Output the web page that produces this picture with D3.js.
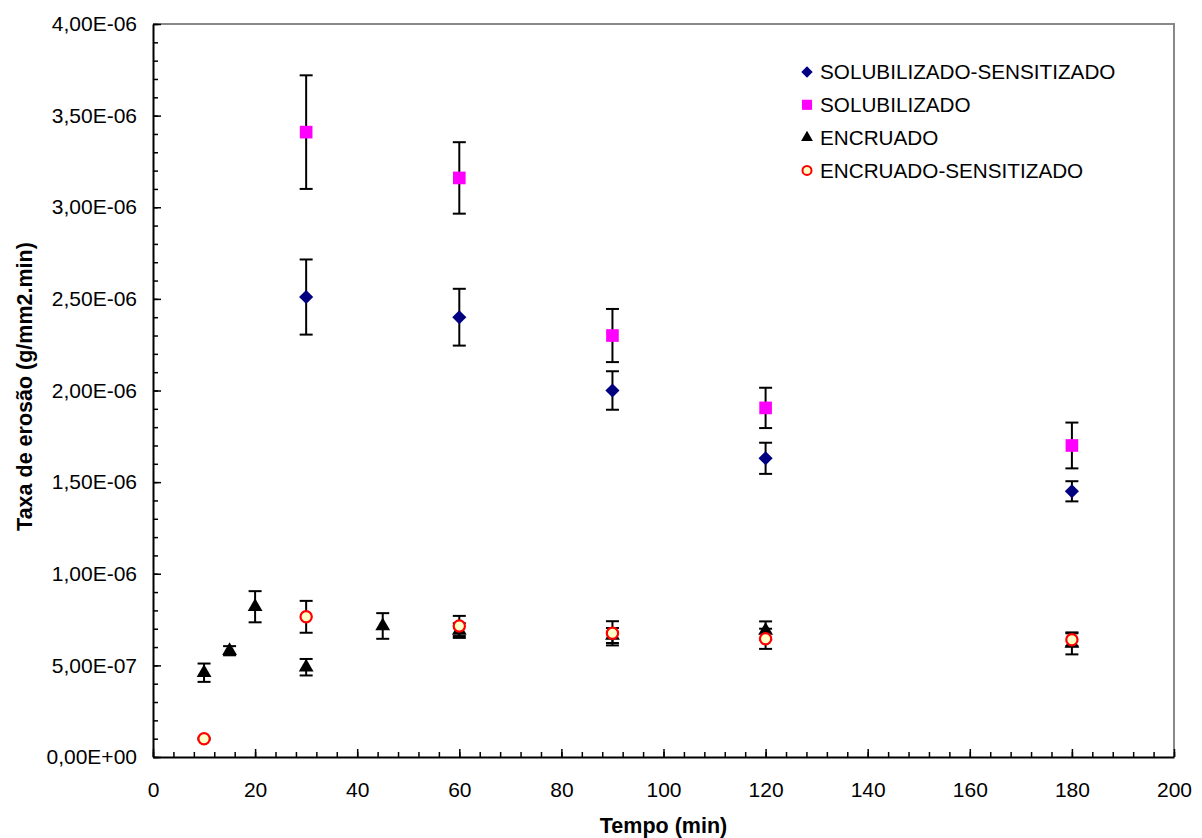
<!DOCTYPE html>
<html>
<head>
<meta charset="utf-8">
<script src="https://cdn.jsdelivr.net/npm/d3@7"></script>
<style>
  body { margin: 0; background: #fff; }
  svg text { font-family: "Liberation Sans", Arial, sans-serif; fill: #000; }
</style>
</head>
<body>
<svg width="1202" height="838"></svg>
<script>
// dados (taxa em g/mm2.min)
var solSensX = [30, 60, 90, 120, 180],
    solSensY = [2.51e-6, 2.40e-6, 2.00e-6, 1.63e-6, 1.45e-6],
    solSensErr = [0.205e-6, 0.155e-6, 0.105e-6, 0.085e-6, 0.055e-6];

var solX = [30, 60, 90, 120, 180],
    solY = [3.41e-6, 3.16e-6, 2.30e-6, 1.905e-6, 1.70e-6],
    solErr = [0.31e-6, 0.195e-6, 0.145e-6, 0.11e-6, 0.125e-6];

var encX = [10, 15, 20, 30, 45, 60, 90, 120, 180],
    encY = [0.46e-6, 0.58e-6, 0.82e-6, 0.49e-6, 0.715e-6, 0.69e-6, 0.663e-6, 0.69e-6, 0.62e-6],
    encErr = [0.05e-6, 0.025e-6, 0.085e-6, 0.045e-6, 0.07e-6, 0.04e-6, 0.041e-6, 0.05e-6, 0.06e-6];

var encSensX = [10, 30, 60, 90, 120, 180],
    encSensY = [0.10e-6, 0.765e-6, 0.715e-6, 0.675e-6, 0.645e-6, 0.64e-6],
    encSensErr = [0.005e-6, 0.087e-6, 0.055e-6, 0.066e-6, 0.055e-6, 0.035e-6];

var seriesNames = ['SOLUBILIZADO-SENSITIZADO', 'SOLUBILIZADO', 'ENCRUADO', 'ENCRUADO-SENSITIZADO'];

var xTicks = d3.range(0, 201, 20),
    xMinor = d3.range(0, 201, 4),
    yTicks = d3.range(0, 4.01e-6, 0.5e-6),
    yMinor = d3.range(0, 4.01e-6, 0.1e-6);

var svg = d3.select('svg'),
    margin = { top: 24, right: 28, bottom: 81, left: 153 },
    width = +svg.attr('width') - margin.left - margin.right,
    height = +svg.attr('height') - margin.top - margin.bottom;

var x = d3.scaleLinear().domain([0, 200]).range([0, width]),
    y = d3.scaleLinear().domain([0, 4e-6]).range([height, 0]);

var g = svg.append('g')
    .attr('transform', 'translate(' + margin.left + ',' + margin.top + ')');

// moldura cinza (topo e direita)
g.append('path')
    .attr('d', 'M0,0H' + width + 'V' + height)
    .attr('fill', 'none')
    .attr('stroke', '#888')
    .attr('stroke-width', 2);

function fmtY(v) {
  if (Math.abs(v) < 1e-12) return '0,00E+00';
  var s = v.toExponential(2).split('e');
  var ex = +s[1];
  var es = (ex < 0 ? '-' : '+') + (Math.abs(ex) < 10 ? '0' : '') + Math.abs(ex);
  return s[0].replace('.', ',') + 'E' + es;
}

// eixos secundários (ticks menores)
g.append('g')
    .attr('transform', 'translate(0,' + height + ')')
    .call(d3.axisBottom(x).tickValues(xMinor).tickSize(-5).tickFormat(''))
    .call(function(a) { a.select('.domain').remove(); });
g.append('g')
    .call(d3.axisLeft(y).tickValues(yMinor).tickSize(-5).tickFormat(''))
    .call(function(a) { a.select('.domain').remove(); });

var xAxis = g.append('g')
    .attr('transform', 'translate(0,' + height + ')')
    .call(d3.axisBottom(x).tickValues(xTicks).tickSizeInner(-8).tickSizeOuter(0).tickPadding(25));
var yAxis = g.append('g')
    .call(d3.axisLeft(y).tickValues(yTicks).tickSizeInner(-8).tickSizeOuter(0).tickPadding(16).tickFormat(fmtY));

[xAxis, yAxis].forEach(function(a) {
  a.select('.domain').attr('stroke', '#000').attr('stroke-width', 2);
  a.selectAll('text').style('font-size', '21px').attr('fill', '#000');
});
g.selectAll('.tick line').attr('stroke', '#000').attr('stroke-width', 1.5);

// titulos dos eixos
svg.append('text')
    .attr('x', margin.left + width / 2)
    .attr('y', 833)
    .attr('text-anchor', 'middle')
    .style('font-size', '21.5px')
    .style('font-weight', 'bold')
    .text('Tempo (min)');
svg.append('text')
    .attr('transform', 'translate(32,' + (margin.top + height / 2 - 4) + ') rotate(-90)')
    .attr('text-anchor', 'middle')
    .style('font-size', '21.5px')
    .style('font-weight', 'bold')
    .text('Taxa de erosão (g/mm2.min)');

// series
var series = [
  { name: seriesNames[0], xs: solSensX, ys: solSensY, err: solSensErr, shape: 'diamond', fill: '#000080', stroke: 'none' },
  { name: seriesNames[1], xs: solX, ys: solY, err: solErr, shape: 'square', fill: '#ff00ff', stroke: 'none' },
  { name: seriesNames[2], xs: encX, ys: encY, err: encErr, shape: 'triangle', fill: '#000', stroke: 'none' },
  { name: seriesNames[3], xs: encSensX, ys: encSensY, err: encSensErr, shape: 'circle', fill: '#ffffc8', stroke: '#ff0000' }
];

function symbolPath(shape, k) {
  if (shape === 'diamond') return d3.symbol(d3.symbolSquare, 100 * k * k)();
  if (shape === 'square') return d3.symbol(d3.symbolSquare, 160 * k * k)();
  if (shape === 'triangle') return d3.symbol(d3.symbolTriangle, 95 * k * k)();
  return d3.symbol(d3.symbolCircle, 100 * k * k)();
}

var cap = 6.5;
series.forEach(function(s) {
  var pts = s.xs.map(function(v, i) { return { x: v, y: s.ys[i], e: s.err[i] }; });
  var sg = g.append('g');
  var eb = sg.selectAll('.err').data(pts).enter().append('g')
      .attr('stroke', '#000').attr('stroke-width', 2);
  eb.append('line')
      .attr('x1', function(d) { return x(d.x); }).attr('x2', function(d) { return x(d.x); })
      .attr('y1', function(d) { return y(d.y + d.e); }).attr('y2', function(d) { return y(d.y - d.e); });
  eb.append('line')
      .attr('x1', function(d) { return x(d.x) - cap; }).attr('x2', function(d) { return x(d.x) + cap; })
      .attr('y1', function(d) { return y(d.y + d.e); }).attr('y2', function(d) { return y(d.y + d.e); });
  eb.append('line')
      .attr('x1', function(d) { return x(d.x) - cap; }).attr('x2', function(d) { return x(d.x) + cap; })
      .attr('y1', function(d) { return y(d.y - d.e); }).attr('y2', function(d) { return y(d.y - d.e); });
  sg.selectAll('.pt').data(pts).enter().append('path')
      .attr('d', symbolPath(s.shape, 1))
      .attr('transform', function(d) {
        return 'translate(' + x(d.x) + ',' + y(d.y) + ')' + (s.shape === 'diamond' ? ' rotate(45)' : '');
      })
      .attr('fill', s.fill)
      .attr('stroke', s.stroke)
      .attr('stroke-width', 2.2);
});

// legenda
var leg = svg.append('g').attr('transform', 'translate(807,72)');
var li = leg.selectAll('.li').data(series).enter().append('g')
    .attr('transform', function(d, i) { return 'translate(0,' + (i * 32.8) + ')'; });
li.append('path')
    .attr('d', function(d) { return symbolPath(d.shape, 0.8); })
    .attr('transform', function(d) { return d.shape === 'diamond' ? 'rotate(45)' : ''; })
    .attr('fill', function(d) { return d.fill; })
    .attr('stroke', function(d) { return d.stroke; })
    .attr('stroke-width', 2);
li.append('text')
    .attr('x', 13)
    .attr('dy', '0.36em')
    .style('font-size', '20.7px')
    .text(function(d) { return d.name; });
</script>
</body>
</html>
